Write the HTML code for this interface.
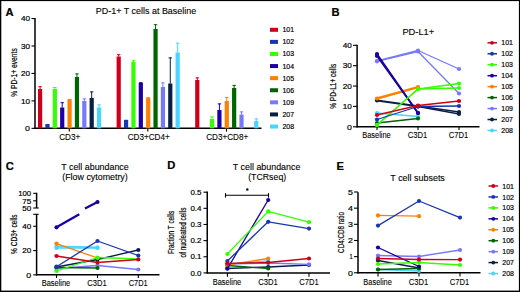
<!DOCTYPE html>
<html><head><meta charset="utf-8"><style>
html,body{margin:0;padding:0;background:#fff;width:520px;height:292px;overflow:hidden}
svg{display:block}
text{font-family:"Liberation Sans",sans-serif;fill:#000}
</style></head><body>
<div id="w"><svg width="520" height="292" viewBox="0 0 520 292">
<rect width="520" height="292" fill="#fff"/>
<text x="5.6" y="15.6" font-size="11.2" text-anchor="start" font-weight="bold" stroke="#000" stroke-width="0.2">A</text>
<text x="146" y="13.8" font-size="9.4" text-anchor="middle" font-weight="normal" textLength="100.5" lengthAdjust="spacingAndGlyphs" stroke="#000" stroke-width="0.12">PD-1+ T cells at Baseline</text>
<line x1="35" y1="17.9" x2="35" y2="128.95" stroke="#000" stroke-width="1.5"/>
<line x1="31.5" y1="128.35" x2="35" y2="128.35" stroke="#000" stroke-width="1.1"/>
<text x="30" y="131.07" font-size="7.6" text-anchor="end" font-weight="normal" textLength="4.9" lengthAdjust="spacingAndGlyphs" stroke="#000" stroke-width="0.2">0</text>
<line x1="31.5" y1="100.9" x2="35" y2="100.9" stroke="#000" stroke-width="1.1"/>
<text x="30" y="103.62" font-size="7.6" text-anchor="end" font-weight="normal" textLength="9.1" lengthAdjust="spacingAndGlyphs" stroke="#000" stroke-width="0.2">10</text>
<line x1="31.5" y1="73.45" x2="35" y2="73.45" stroke="#000" stroke-width="1.1"/>
<text x="30" y="76.17" font-size="7.6" text-anchor="end" font-weight="normal" textLength="9.1" lengthAdjust="spacingAndGlyphs" stroke="#000" stroke-width="0.2">20</text>
<line x1="31.5" y1="46" x2="35" y2="46" stroke="#000" stroke-width="1.1"/>
<text x="30" y="48.72" font-size="7.6" text-anchor="end" font-weight="normal" textLength="9.1" lengthAdjust="spacingAndGlyphs" stroke="#000" stroke-width="0.2">30</text>
<line x1="31.5" y1="18.55" x2="35" y2="18.55" stroke="#000" stroke-width="1.1"/>
<text x="30" y="21.27" font-size="7.6" text-anchor="end" font-weight="normal" textLength="9.1" lengthAdjust="spacingAndGlyphs" stroke="#000" stroke-width="0.2">40</text>
<line x1="34.4" y1="128.35" x2="261.5" y2="128.35" stroke="#000" stroke-width="1.5"/>
<line x1="69.3" y1="128.35" x2="69.3" y2="131.6" stroke="#000" stroke-width="1.1"/>
<line x1="147.8" y1="128.35" x2="147.8" y2="131.6" stroke="#000" stroke-width="1.1"/>
<line x1="226.5" y1="128.35" x2="226.5" y2="131.6" stroke="#000" stroke-width="1.1"/>
<text x="69.7" y="139.7" font-size="8.3" text-anchor="middle" font-weight="normal" textLength="21" lengthAdjust="spacingAndGlyphs" stroke="#000" stroke-width="0.1">CD3+</text>
<text x="148.7" y="139.7" font-size="8.3" text-anchor="middle" font-weight="normal" textLength="42" lengthAdjust="spacingAndGlyphs" stroke="#000" stroke-width="0.1">CD3+CD4+</text>
<text x="227.2" y="139.7" font-size="8.3" text-anchor="middle" font-weight="normal" textLength="42" lengthAdjust="spacingAndGlyphs" stroke="#000" stroke-width="0.1">CD3+CD8+</text>
<text transform="translate(17,72.5) rotate(-90)" x="0" y="0" font-size="8.6" text-anchor="middle" textLength="48.5" lengthAdjust="spacingAndGlyphs" stroke="#000" stroke-width="0.2">% PD-1+ events</text>
<rect x="38" y="89" width="4.2" height="39.35" fill="#cc0018"/>
<line x1="40.1" y1="86.3" x2="40.1" y2="89" stroke="#cc0018" stroke-width="1"/>
<line x1="38.4" y1="86.7" x2="41.8" y2="86.7" stroke="#cc0018" stroke-width="1"/>
<rect x="45.37" y="124" width="4.2" height="4.35" fill="#1637b0"/>
<rect x="52.74" y="88.9" width="4.2" height="39.45" fill="#33ff00"/>
<line x1="54.84" y1="87.1" x2="54.84" y2="88.9" stroke="#33ff00" stroke-width="1"/>
<line x1="53.14" y1="87.5" x2="56.54" y2="87.5" stroke="#33ff00" stroke-width="1"/>
<rect x="60.11" y="107.5" width="4.2" height="20.85" fill="#1c00a4"/>
<line x1="62.21" y1="102.3" x2="62.21" y2="107.5" stroke="#1c00a4" stroke-width="1"/>
<line x1="60.51" y1="102.7" x2="63.91" y2="102.7" stroke="#1c00a4" stroke-width="1"/>
<rect x="67.48" y="99.5" width="4.2" height="28.85" fill="#ff7f00"/>
<line x1="69.58" y1="99" x2="69.58" y2="99.5" stroke="#ff7f00" stroke-width="1"/>
<line x1="67.88" y1="99.4" x2="71.28" y2="99.4" stroke="#ff7f00" stroke-width="1"/>
<rect x="74.85" y="77" width="4.2" height="51.35" fill="#006400"/>
<line x1="76.95" y1="73.5" x2="76.95" y2="77" stroke="#006400" stroke-width="1"/>
<line x1="75.25" y1="73.9" x2="78.65" y2="73.9" stroke="#006400" stroke-width="1"/>
<rect x="82.22" y="101" width="4.2" height="27.35" fill="#7878ff"/>
<line x1="84.32" y1="98.5" x2="84.32" y2="101" stroke="#7878ff" stroke-width="1"/>
<line x1="82.62" y1="98.9" x2="86.02" y2="98.9" stroke="#7878ff" stroke-width="1"/>
<rect x="89.59" y="98" width="4.2" height="30.35" fill="#0a1f45"/>
<line x1="91.69" y1="91.5" x2="91.69" y2="98" stroke="#0a1f45" stroke-width="1"/>
<line x1="89.99" y1="91.9" x2="93.39" y2="91.9" stroke="#0a1f45" stroke-width="1"/>
<rect x="96.96" y="107.5" width="4.2" height="20.85" fill="#4ad4ff"/>
<line x1="99.06" y1="104.5" x2="99.06" y2="107.5" stroke="#4ad4ff" stroke-width="1"/>
<line x1="97.36" y1="104.9" x2="100.76" y2="104.9" stroke="#4ad4ff" stroke-width="1"/>
<rect x="116.6" y="56.5" width="4.2" height="71.85" fill="#cc0018"/>
<line x1="118.7" y1="54.3" x2="118.7" y2="56.5" stroke="#cc0018" stroke-width="1"/>
<line x1="117" y1="54.7" x2="120.4" y2="54.7" stroke="#cc0018" stroke-width="1"/>
<rect x="123.97" y="119.8" width="4.2" height="8.55" fill="#1637b0"/>
<rect x="131.34" y="62" width="4.2" height="66.35" fill="#33ff00"/>
<line x1="133.44" y1="60.3" x2="133.44" y2="62" stroke="#33ff00" stroke-width="1"/>
<line x1="131.74" y1="60.7" x2="135.14" y2="60.7" stroke="#33ff00" stroke-width="1"/>
<rect x="138.71" y="82.8" width="4.2" height="45.55" fill="#1c00a4"/>
<line x1="140.81" y1="82.3" x2="140.81" y2="82.8" stroke="#1c00a4" stroke-width="1"/>
<line x1="139.11" y1="82.7" x2="142.51" y2="82.7" stroke="#1c00a4" stroke-width="1"/>
<rect x="146.08" y="98" width="4.2" height="30.35" fill="#ff7f00"/>
<line x1="148.18" y1="97.3" x2="148.18" y2="98" stroke="#ff7f00" stroke-width="1"/>
<line x1="146.48" y1="97.7" x2="149.88" y2="97.7" stroke="#ff7f00" stroke-width="1"/>
<rect x="153.45" y="29" width="4.2" height="99.35" fill="#006400"/>
<line x1="155.55" y1="24.3" x2="155.55" y2="29" stroke="#006400" stroke-width="1"/>
<line x1="153.85" y1="24.7" x2="157.25" y2="24.7" stroke="#006400" stroke-width="1"/>
<rect x="160.82" y="87" width="4.2" height="41.35" fill="#7878ff"/>
<line x1="162.92" y1="82.5" x2="162.92" y2="87" stroke="#7878ff" stroke-width="1"/>
<line x1="161.22" y1="82.9" x2="164.62" y2="82.9" stroke="#7878ff" stroke-width="1"/>
<rect x="168.19" y="83.5" width="4.2" height="44.85" fill="#0a1f45"/>
<line x1="170.29" y1="57.5" x2="170.29" y2="83.5" stroke="#0a1f45" stroke-width="1"/>
<line x1="168.59" y1="57.9" x2="171.99" y2="57.9" stroke="#0a1f45" stroke-width="1"/>
<rect x="175.56" y="52.5" width="4.2" height="75.85" fill="#4ad4ff"/>
<line x1="177.66" y1="42.8" x2="177.66" y2="52.5" stroke="#4ad4ff" stroke-width="1"/>
<line x1="175.96" y1="43.2" x2="179.36" y2="43.2" stroke="#4ad4ff" stroke-width="1"/>
<rect x="195.2" y="80" width="4.2" height="48.35" fill="#cc0018"/>
<line x1="197.3" y1="77.5" x2="197.3" y2="80" stroke="#cc0018" stroke-width="1"/>
<line x1="195.6" y1="77.9" x2="199" y2="77.9" stroke="#cc0018" stroke-width="1"/>
<rect x="209.94" y="119" width="4.2" height="9.35" fill="#33ff00"/>
<line x1="212.04" y1="116.5" x2="212.04" y2="119" stroke="#33ff00" stroke-width="1"/>
<line x1="210.34" y1="116.9" x2="213.74" y2="116.9" stroke="#33ff00" stroke-width="1"/>
<rect x="217.31" y="110" width="4.2" height="18.35" fill="#1c00a4"/>
<line x1="219.41" y1="103.5" x2="219.41" y2="110" stroke="#1c00a4" stroke-width="1"/>
<line x1="217.71" y1="103.9" x2="221.11" y2="103.9" stroke="#1c00a4" stroke-width="1"/>
<rect x="224.68" y="101" width="4.2" height="27.35" fill="#ff7f00"/>
<line x1="226.78" y1="97" x2="226.78" y2="101" stroke="#ff7f00" stroke-width="1"/>
<line x1="225.08" y1="97.4" x2="228.48" y2="97.4" stroke="#ff7f00" stroke-width="1"/>
<rect x="232.05" y="88" width="4.2" height="40.35" fill="#006400"/>
<line x1="234.15" y1="85" x2="234.15" y2="88" stroke="#006400" stroke-width="1"/>
<line x1="232.45" y1="85.4" x2="235.85" y2="85.4" stroke="#006400" stroke-width="1"/>
<rect x="239.42" y="114.5" width="4.2" height="13.85" fill="#7878ff"/>
<line x1="241.52" y1="111.5" x2="241.52" y2="114.5" stroke="#7878ff" stroke-width="1"/>
<line x1="239.82" y1="111.9" x2="243.22" y2="111.9" stroke="#7878ff" stroke-width="1"/>
<rect x="254.16" y="121" width="4.2" height="7.35" fill="#4ad4ff"/>
<line x1="256.26" y1="118.5" x2="256.26" y2="121" stroke="#4ad4ff" stroke-width="1"/>
<line x1="254.56" y1="118.9" x2="257.96" y2="118.9" stroke="#4ad4ff" stroke-width="1"/>
<rect x="270" y="27.8" width="8" height="4" fill="#cc0018"/>
<text x="282.5" y="32.3" font-size="8.1" text-anchor="start" font-weight="normal" textLength="11.6" lengthAdjust="spacingAndGlyphs" stroke="#000" stroke-width="0.2">101</text>
<rect x="270" y="39.89" width="8" height="4" fill="#1637b0"/>
<text x="282.5" y="44.39" font-size="8.1" text-anchor="start" font-weight="normal" textLength="11.6" lengthAdjust="spacingAndGlyphs" stroke="#000" stroke-width="0.2">102</text>
<rect x="270" y="51.98" width="8" height="4" fill="#33ff00"/>
<text x="282.5" y="56.48" font-size="8.1" text-anchor="start" font-weight="normal" textLength="11.6" lengthAdjust="spacingAndGlyphs" stroke="#000" stroke-width="0.2">103</text>
<rect x="270" y="64.07" width="8" height="4" fill="#1c00a4"/>
<text x="282.5" y="68.57" font-size="8.1" text-anchor="start" font-weight="normal" textLength="11.6" lengthAdjust="spacingAndGlyphs" stroke="#000" stroke-width="0.2">104</text>
<rect x="270" y="76.16" width="8" height="4" fill="#ff7f00"/>
<text x="282.5" y="80.66" font-size="8.1" text-anchor="start" font-weight="normal" textLength="11.6" lengthAdjust="spacingAndGlyphs" stroke="#000" stroke-width="0.2">105</text>
<rect x="270" y="88.25" width="8" height="4" fill="#006400"/>
<text x="282.5" y="92.75" font-size="8.1" text-anchor="start" font-weight="normal" textLength="11.6" lengthAdjust="spacingAndGlyphs" stroke="#000" stroke-width="0.2">106</text>
<rect x="270" y="100.34" width="8" height="4" fill="#7878ff"/>
<text x="282.5" y="104.84" font-size="8.1" text-anchor="start" font-weight="normal" textLength="11.6" lengthAdjust="spacingAndGlyphs" stroke="#000" stroke-width="0.2">109</text>
<rect x="270" y="112.43" width="8" height="4" fill="#0a1f45"/>
<text x="282.5" y="116.93" font-size="8.1" text-anchor="start" font-weight="normal" textLength="11.6" lengthAdjust="spacingAndGlyphs" stroke="#000" stroke-width="0.2">207</text>
<rect x="270" y="124.52" width="8" height="4" fill="#4ad4ff"/>
<text x="282.5" y="129.02" font-size="8.1" text-anchor="start" font-weight="normal" textLength="11.6" lengthAdjust="spacingAndGlyphs" stroke="#000" stroke-width="0.2">208</text>
<text x="331.4" y="15.6" font-size="11.2" text-anchor="start" font-weight="bold" stroke="#000" stroke-width="0.2">B</text>
<text x="418.3" y="34.6" font-size="9.4" text-anchor="middle" font-weight="normal" textLength="31.8" lengthAdjust="spacingAndGlyphs" stroke="#000" stroke-width="0.12">PD-L1+</text>
<line x1="357.1" y1="44.7" x2="357.1" y2="127.4" stroke="#000" stroke-width="1.5"/>
<line x1="353" y1="126.8" x2="357.1" y2="126.8" stroke="#000" stroke-width="1.1"/>
<text x="351.9" y="129.52" font-size="7.6" text-anchor="end" font-weight="normal" textLength="4.9" lengthAdjust="spacingAndGlyphs" stroke="#000" stroke-width="0.2">0</text>
<line x1="353" y1="106.42" x2="357.1" y2="106.42" stroke="#000" stroke-width="1.1"/>
<text x="351.9" y="109.15" font-size="7.6" text-anchor="end" font-weight="normal" textLength="9.1" lengthAdjust="spacingAndGlyphs" stroke="#000" stroke-width="0.2">10</text>
<line x1="353" y1="86.05" x2="357.1" y2="86.05" stroke="#000" stroke-width="1.1"/>
<text x="351.9" y="88.77" font-size="7.6" text-anchor="end" font-weight="normal" textLength="9.1" lengthAdjust="spacingAndGlyphs" stroke="#000" stroke-width="0.2">20</text>
<line x1="353" y1="65.67" x2="357.1" y2="65.67" stroke="#000" stroke-width="1.1"/>
<text x="351.9" y="68.4" font-size="7.6" text-anchor="end" font-weight="normal" textLength="9.1" lengthAdjust="spacingAndGlyphs" stroke="#000" stroke-width="0.2">30</text>
<line x1="353" y1="45.3" x2="357.1" y2="45.3" stroke="#000" stroke-width="1.1"/>
<text x="351.9" y="48.02" font-size="7.6" text-anchor="end" font-weight="normal" textLength="9.1" lengthAdjust="spacingAndGlyphs" stroke="#000" stroke-width="0.2">40</text>
<line x1="356.5" y1="126.8" x2="479.5" y2="126.8" stroke="#000" stroke-width="1.5"/>
<line x1="377" y1="126.8" x2="377" y2="130" stroke="#000" stroke-width="1.1"/>
<line x1="418" y1="126.8" x2="418" y2="130" stroke="#000" stroke-width="1.1"/>
<line x1="459" y1="126.8" x2="459" y2="130" stroke="#000" stroke-width="1.1"/>
<text x="376.5" y="138.2" font-size="8.3" text-anchor="middle" font-weight="normal" textLength="28.5" lengthAdjust="spacingAndGlyphs" stroke="#000" stroke-width="0.1">Baseline</text>
<text x="417.5" y="138.2" font-size="8.3" text-anchor="middle" font-weight="normal" textLength="19.5" lengthAdjust="spacingAndGlyphs" stroke="#000" stroke-width="0.1">C3D1</text>
<text x="458.5" y="138.2" font-size="8.3" text-anchor="middle" font-weight="normal" textLength="19.5" lengthAdjust="spacingAndGlyphs" stroke="#000" stroke-width="0.1">C7D1</text>
<text transform="translate(335.8,86.3) rotate(-90)" x="0" y="0" font-size="8.6" text-anchor="middle" textLength="45" lengthAdjust="spacingAndGlyphs" stroke="#000" stroke-width="0.2">% PD-L1+ cells</text>
<polyline points="377,113 418,116.5" fill="none" stroke="#4ad4ff" stroke-width="1.3" stroke-linejoin="round" stroke-linecap="round"/>
<circle cx="377" cy="113" r="2.1" fill="#4ad4ff"/>
<circle cx="418" cy="116.5" r="2.1" fill="#4ad4ff"/>
<polyline points="377,100.5 418,106.2" fill="none" stroke="#0a1f45" stroke-width="2" stroke-linejoin="round" stroke-linecap="round"/>
<circle cx="377" cy="100.5" r="2.1" fill="#0a1f45"/>
<circle cx="418" cy="106.2" r="2.1" fill="#0a1f45"/>
<polyline points="418,106 459,112" fill="none" stroke="#0a1f45" stroke-width="1.3" stroke-linejoin="round" stroke-linecap="round"/>
<circle cx="418" cy="106" r="2.1" fill="#0a1f45"/>
<circle cx="459" cy="112" r="2.1" fill="#0a1f45"/>
<polyline points="418,106.5 459,114" fill="none" stroke="#0a1f45" stroke-width="1.3" stroke-linejoin="round" stroke-linecap="round"/>
<circle cx="418" cy="106.5" r="2.1" fill="#0a1f45"/>
<circle cx="459" cy="114" r="2.1" fill="#0a1f45"/>
<polyline points="377,61 418,50.5 459,69" fill="none" stroke="#7878ff" stroke-width="1.3" stroke-linejoin="round" stroke-linecap="round"/>
<circle cx="377" cy="61" r="2.1" fill="#7878ff"/>
<circle cx="418" cy="50.5" r="2.1" fill="#7878ff"/>
<circle cx="459" cy="69" r="2.1" fill="#7878ff"/>
<polyline points="377,61.3 418,51.5 459,93.5" fill="none" stroke="#7878ff" stroke-width="1.3" stroke-linejoin="round" stroke-linecap="round"/>
<circle cx="377" cy="61.3" r="2.1" fill="#7878ff"/>
<circle cx="418" cy="51.5" r="2.1" fill="#7878ff"/>
<circle cx="459" cy="93.5" r="2.1" fill="#7878ff"/>
<polyline points="377,123 418,118.5" fill="none" stroke="#006400" stroke-width="1.7" stroke-linejoin="round" stroke-linecap="round"/>
<circle cx="377" cy="123" r="2.1" fill="#006400"/>
<circle cx="418" cy="118.5" r="2.1" fill="#006400"/>
<polyline points="377,98.5 418,87.2" fill="none" stroke="#ff7f00" stroke-width="2.4" stroke-linejoin="round" stroke-linecap="round"/>
<circle cx="377" cy="98.5" r="2.1" fill="#ff7f00"/>
<circle cx="418" cy="87.2" r="2.1" fill="#ff7f00"/>
<polyline points="377,54 418,113" fill="none" stroke="#1c00a4" stroke-width="1.7" stroke-linejoin="round" stroke-linecap="round"/>
<circle cx="377" cy="54" r="2.1" fill="#1c00a4"/>
<circle cx="418" cy="113" r="2.1" fill="#1c00a4"/>
<polyline points="377,56 418,113" fill="none" stroke="#1c00a4" stroke-width="1.7" stroke-linejoin="round" stroke-linecap="round"/>
<circle cx="377" cy="56" r="2.1" fill="#1c00a4"/>
<circle cx="418" cy="113" r="2.1" fill="#1c00a4"/>
<polyline points="377,125 418,89 459,83.5" fill="none" stroke="#33ff00" stroke-width="1.3" stroke-linejoin="round" stroke-linecap="round"/>
<circle cx="377" cy="125" r="2.1" fill="#33ff00"/>
<circle cx="418" cy="89" r="2.1" fill="#33ff00"/>
<circle cx="459" cy="83.5" r="2.1" fill="#33ff00"/>
<polyline points="377,125 418,89 459,88" fill="none" stroke="#33ff00" stroke-width="1.3" stroke-linejoin="round" stroke-linecap="round"/>
<circle cx="377" cy="125" r="2.1" fill="#33ff00"/>
<circle cx="418" cy="89" r="2.1" fill="#33ff00"/>
<circle cx="459" cy="88" r="2.1" fill="#33ff00"/>
<polyline points="377,119.5 418,106.5 459,106" fill="none" stroke="#1637b0" stroke-width="1.3" stroke-linejoin="round" stroke-linecap="round"/>
<circle cx="377" cy="119.5" r="2.1" fill="#1637b0"/>
<circle cx="418" cy="106.5" r="2.1" fill="#1637b0"/>
<circle cx="459" cy="106" r="2.1" fill="#1637b0"/>
<polyline points="377,115 418,105.5 459,101" fill="none" stroke="#cc0018" stroke-width="1.3" stroke-linejoin="round" stroke-linecap="round"/>
<circle cx="377" cy="115" r="2.1" fill="#cc0018"/>
<circle cx="418" cy="105.5" r="2.1" fill="#cc0018"/>
<circle cx="459" cy="101" r="2.1" fill="#cc0018"/>
<line x1="487.5" y1="42.8" x2="497" y2="42.8" stroke="#cc0018" stroke-width="1.5"/>
<circle cx="492" cy="42.8" r="1.9" fill="#cc0018"/>
<text x="501.3" y="45.4" font-size="8.1" text-anchor="start" font-weight="normal" textLength="11.6" lengthAdjust="spacingAndGlyphs" stroke="#000" stroke-width="0.2">101</text>
<line x1="487.5" y1="53.76" x2="497" y2="53.76" stroke="#1637b0" stroke-width="1.5"/>
<circle cx="492" cy="53.76" r="1.9" fill="#1637b0"/>
<text x="501.3" y="56.36" font-size="8.1" text-anchor="start" font-weight="normal" textLength="11.6" lengthAdjust="spacingAndGlyphs" stroke="#000" stroke-width="0.2">102</text>
<line x1="487.5" y1="64.72" x2="497" y2="64.72" stroke="#33ff00" stroke-width="1.5"/>
<circle cx="492" cy="64.72" r="1.9" fill="#33ff00"/>
<text x="501.3" y="67.32" font-size="8.1" text-anchor="start" font-weight="normal" textLength="11.6" lengthAdjust="spacingAndGlyphs" stroke="#000" stroke-width="0.2">103</text>
<line x1="487.5" y1="75.68" x2="497" y2="75.68" stroke="#1c00a4" stroke-width="1.5"/>
<circle cx="492" cy="75.68" r="1.9" fill="#1c00a4"/>
<text x="501.3" y="78.28" font-size="8.1" text-anchor="start" font-weight="normal" textLength="11.6" lengthAdjust="spacingAndGlyphs" stroke="#000" stroke-width="0.2">104</text>
<line x1="487.5" y1="86.64" x2="497" y2="86.64" stroke="#ff7f00" stroke-width="1.5"/>
<circle cx="492" cy="86.64" r="1.9" fill="#ff7f00"/>
<text x="501.3" y="89.24" font-size="8.1" text-anchor="start" font-weight="normal" textLength="11.6" lengthAdjust="spacingAndGlyphs" stroke="#000" stroke-width="0.2">105</text>
<line x1="487.5" y1="97.6" x2="497" y2="97.6" stroke="#006400" stroke-width="1.5"/>
<circle cx="492" cy="97.6" r="1.9" fill="#006400"/>
<text x="501.3" y="100.2" font-size="8.1" text-anchor="start" font-weight="normal" textLength="11.6" lengthAdjust="spacingAndGlyphs" stroke="#000" stroke-width="0.2">106</text>
<line x1="487.5" y1="108.56" x2="497" y2="108.56" stroke="#7878ff" stroke-width="1.5"/>
<circle cx="492" cy="108.56" r="1.9" fill="#7878ff"/>
<text x="501.3" y="111.16" font-size="8.1" text-anchor="start" font-weight="normal" textLength="11.6" lengthAdjust="spacingAndGlyphs" stroke="#000" stroke-width="0.2">109</text>
<line x1="487.5" y1="119.52" x2="497" y2="119.52" stroke="#0a1f45" stroke-width="1.5"/>
<circle cx="492" cy="119.52" r="1.9" fill="#0a1f45"/>
<text x="501.3" y="122.12" font-size="8.1" text-anchor="start" font-weight="normal" textLength="11.6" lengthAdjust="spacingAndGlyphs" stroke="#000" stroke-width="0.2">207</text>
<line x1="487.5" y1="130.48" x2="497" y2="130.48" stroke="#4ad4ff" stroke-width="1.5"/>
<circle cx="492" cy="130.48" r="1.9" fill="#4ad4ff"/>
<text x="501.3" y="133.08" font-size="8.1" text-anchor="start" font-weight="normal" textLength="11.6" lengthAdjust="spacingAndGlyphs" stroke="#000" stroke-width="0.2">208</text>
<text x="5.8" y="169.6" font-size="11.2" text-anchor="start" font-weight="bold" stroke="#000" stroke-width="0.2">C</text>
<text x="95" y="169.8" font-size="9.4" text-anchor="middle" font-weight="normal" textLength="67.5" lengthAdjust="spacingAndGlyphs" stroke="#000" stroke-width="0.12">T cell abundance</text>
<text x="95" y="179.6" font-size="9.4" text-anchor="middle" font-weight="normal" textLength="65.5" lengthAdjust="spacingAndGlyphs" stroke="#000" stroke-width="0.12">(Flow cytometry)</text>
<line x1="36.6" y1="192.8" x2="36.6" y2="208" stroke="#000" stroke-width="1.5"/>
<line x1="36.6" y1="214.3" x2="36.6" y2="275.45" stroke="#000" stroke-width="1.5"/>
<line x1="33.2" y1="193.3" x2="36.6" y2="193.3" stroke="#000" stroke-width="1.1"/>
<text x="31.2" y="196.02" font-size="7.6" text-anchor="end" font-weight="normal" textLength="13" lengthAdjust="spacingAndGlyphs" stroke="#000" stroke-width="0.2">100</text>
<line x1="33.2" y1="200.8" x2="36.6" y2="200.8" stroke="#000" stroke-width="1.1"/>
<text x="31.2" y="203.52" font-size="7.6" text-anchor="end" font-weight="normal" textLength="9" lengthAdjust="spacingAndGlyphs" stroke="#000" stroke-width="0.2">75</text>
<line x1="33.2" y1="208" x2="38.7" y2="208" stroke="#000" stroke-width="1.1"/>
<text x="31.2" y="210.72" font-size="7.6" text-anchor="end" font-weight="normal" textLength="9" lengthAdjust="spacingAndGlyphs" stroke="#000" stroke-width="0.2">50</text>
<line x1="33.2" y1="214.3" x2="38.7" y2="214.3" stroke="#000" stroke-width="1.1"/>
<line x1="33.2" y1="274.85" x2="36.6" y2="274.85" stroke="#000" stroke-width="1.1"/>
<text x="31.2" y="277.57" font-size="7.6" text-anchor="end" font-weight="normal" textLength="4.9" lengthAdjust="spacingAndGlyphs" stroke="#000" stroke-width="0.2">0</text>
<line x1="33.2" y1="250.57" x2="36.6" y2="250.57" stroke="#000" stroke-width="1.1"/>
<text x="31.2" y="253.29" font-size="7.6" text-anchor="end" font-weight="normal" textLength="9" lengthAdjust="spacingAndGlyphs" stroke="#000" stroke-width="0.2">20</text>
<line x1="33.2" y1="226.29" x2="36.6" y2="226.29" stroke="#000" stroke-width="1.1"/>
<text x="31.2" y="229.01" font-size="7.6" text-anchor="end" font-weight="normal" textLength="9" lengthAdjust="spacingAndGlyphs" stroke="#000" stroke-width="0.2">40</text>
<line x1="36" y1="274.85" x2="159.5" y2="274.85" stroke="#000" stroke-width="1.5"/>
<line x1="56.5" y1="274.85" x2="56.5" y2="278" stroke="#000" stroke-width="1.1"/>
<line x1="97.5" y1="274.85" x2="97.5" y2="278" stroke="#000" stroke-width="1.1"/>
<line x1="138.3" y1="274.85" x2="138.3" y2="278" stroke="#000" stroke-width="1.1"/>
<text x="56" y="286.2" font-size="8.3" text-anchor="middle" font-weight="normal" textLength="28.5" lengthAdjust="spacingAndGlyphs" stroke="#000" stroke-width="0.1">Baseline</text>
<text x="97" y="286.2" font-size="8.3" text-anchor="middle" font-weight="normal" textLength="19.5" lengthAdjust="spacingAndGlyphs" stroke="#000" stroke-width="0.1">C3D1</text>
<text x="138.2" y="286.2" font-size="8.3" text-anchor="middle" font-weight="normal" textLength="19" lengthAdjust="spacingAndGlyphs" stroke="#000" stroke-width="0.1">C7D1</text>
<text transform="translate(16.7,234.2) rotate(-90)" x="0" y="0" font-size="8.6" text-anchor="middle" textLength="39.6" lengthAdjust="spacingAndGlyphs" stroke="#000" stroke-width="0.2">% CD3+ cells</text>
<polyline points="56.5,246.4 97.5,247.4" fill="none" stroke="#4ad4ff" stroke-width="1.6" stroke-linejoin="round" stroke-linecap="round"/>
<circle cx="56.5" cy="246.4" r="2.1" fill="#4ad4ff"/>
<circle cx="97.5" cy="247.4" r="2.1" fill="#4ad4ff"/>
<polyline points="56.5,248 97.5,248" fill="none" stroke="#4ad4ff" stroke-width="1.6" stroke-linejoin="round" stroke-linecap="round"/>
<circle cx="56.5" cy="248" r="2.1" fill="#4ad4ff"/>
<circle cx="97.5" cy="248" r="2.1" fill="#4ad4ff"/>
<polyline points="56.5,267 97.5,259.5 138.3,250" fill="none" stroke="#0a1f45" stroke-width="1.3" stroke-linejoin="round" stroke-linecap="round"/>
<circle cx="56.5" cy="267" r="2.1" fill="#0a1f45"/>
<circle cx="97.5" cy="259.5" r="2.1" fill="#0a1f45"/>
<circle cx="138.3" cy="250" r="2.1" fill="#0a1f45"/>
<polyline points="56.5,268.5 97.5,265.5 138.3,269.5" fill="none" stroke="#7878ff" stroke-width="1.3" stroke-linejoin="round" stroke-linecap="round"/>
<circle cx="56.5" cy="268.5" r="2.1" fill="#7878ff"/>
<circle cx="97.5" cy="265.5" r="2.1" fill="#7878ff"/>
<circle cx="138.3" cy="269.5" r="2.1" fill="#7878ff"/>
<polyline points="56.5,267.5 97.5,268" fill="none" stroke="#006400" stroke-width="1.3" stroke-linejoin="round" stroke-linecap="round"/>
<circle cx="56.5" cy="267.5" r="2.1" fill="#006400"/>
<circle cx="97.5" cy="268" r="2.1" fill="#006400"/>
<polyline points="56.5,243.6 97.5,258" fill="none" stroke="#ff7f00" stroke-width="1.3" stroke-linejoin="round" stroke-linecap="round"/>
<circle cx="56.5" cy="243.6" r="2.1" fill="#ff7f00"/>
<circle cx="97.5" cy="258" r="2.1" fill="#ff7f00"/>
<polyline points="56.5,271 97.5,257.5 138.3,259" fill="none" stroke="#33ff00" stroke-width="1.3" stroke-linejoin="round" stroke-linecap="round"/>
<circle cx="56.5" cy="271" r="2.1" fill="#33ff00"/>
<circle cx="97.5" cy="257.5" r="2.1" fill="#33ff00"/>
<circle cx="138.3" cy="259" r="2.1" fill="#33ff00"/>
<polyline points="56.5,266.7 97.5,241 138.3,255.5" fill="none" stroke="#1637b0" stroke-width="1.3" stroke-linejoin="round" stroke-linecap="round"/>
<circle cx="56.5" cy="266.7" r="2.1" fill="#1637b0"/>
<circle cx="97.5" cy="241" r="2.1" fill="#1637b0"/>
<circle cx="138.3" cy="255.5" r="2.1" fill="#1637b0"/>
<polyline points="56.5,256 97.5,262.5 138.3,259.5" fill="none" stroke="#cc0018" stroke-width="1.3" stroke-linejoin="round" stroke-linecap="round"/>
<circle cx="56.5" cy="256" r="2.1" fill="#cc0018"/>
<circle cx="97.5" cy="262.5" r="2.1" fill="#cc0018"/>
<circle cx="138.3" cy="259.5" r="2.1" fill="#cc0018"/>
<line x1="56.5" y1="227.2" x2="79.3" y2="214.3" stroke="#1c00a4" stroke-width="2.3"/>
<line x1="85" y1="208.5" x2="97.5" y2="202" stroke="#1c00a4" stroke-width="2.3"/>
<circle cx="56.5" cy="227.3" r="2.1" fill="#1c00a4"/>
<circle cx="97.5" cy="202" r="2.1" fill="#1c00a4"/>
<text x="167.2" y="169.2" font-size="11.2" text-anchor="start" font-weight="bold" stroke="#000" stroke-width="0.2">D</text>
<text x="266.6" y="169.8" font-size="9.4" text-anchor="middle" font-weight="normal" textLength="67.5" lengthAdjust="spacingAndGlyphs" stroke="#000" stroke-width="0.12">T cell abundance</text>
<text x="267.2" y="179.7" font-size="9.4" text-anchor="middle" font-weight="normal" textLength="38" lengthAdjust="spacingAndGlyphs" stroke="#000" stroke-width="0.12">(TCRseq)</text>
<line x1="207.25" y1="191.6" x2="207.25" y2="273.5" stroke="#000" stroke-width="1.5"/>
<line x1="203.5" y1="272.9" x2="207.25" y2="272.9" stroke="#000" stroke-width="1.1"/>
<text x="201.4" y="275.62" font-size="7.6" text-anchor="end" font-weight="normal" textLength="11" lengthAdjust="spacingAndGlyphs" stroke="#000" stroke-width="0.2">0.0</text>
<line x1="203.5" y1="256.76" x2="207.25" y2="256.76" stroke="#000" stroke-width="1.1"/>
<text x="201.4" y="259.48" font-size="7.6" text-anchor="end" font-weight="normal" textLength="11" lengthAdjust="spacingAndGlyphs" stroke="#000" stroke-width="0.2">0.1</text>
<line x1="203.5" y1="240.62" x2="207.25" y2="240.62" stroke="#000" stroke-width="1.1"/>
<text x="201.4" y="243.34" font-size="7.6" text-anchor="end" font-weight="normal" textLength="11" lengthAdjust="spacingAndGlyphs" stroke="#000" stroke-width="0.2">0.2</text>
<line x1="203.5" y1="224.48" x2="207.25" y2="224.48" stroke="#000" stroke-width="1.1"/>
<text x="201.4" y="227.2" font-size="7.6" text-anchor="end" font-weight="normal" textLength="11" lengthAdjust="spacingAndGlyphs" stroke="#000" stroke-width="0.2">0.3</text>
<line x1="203.5" y1="208.34" x2="207.25" y2="208.34" stroke="#000" stroke-width="1.1"/>
<text x="201.4" y="211.06" font-size="7.6" text-anchor="end" font-weight="normal" textLength="11" lengthAdjust="spacingAndGlyphs" stroke="#000" stroke-width="0.2">0.4</text>
<line x1="203.5" y1="192.2" x2="207.25" y2="192.2" stroke="#000" stroke-width="1.1"/>
<text x="201.4" y="194.92" font-size="7.6" text-anchor="end" font-weight="normal" textLength="11" lengthAdjust="spacingAndGlyphs" stroke="#000" stroke-width="0.2">0.5</text>
<line x1="206.65" y1="272.9" x2="330" y2="272.9" stroke="#000" stroke-width="1.5"/>
<line x1="227.4" y1="272.9" x2="227.4" y2="276.8" stroke="#000" stroke-width="1.1"/>
<line x1="268.2" y1="272.9" x2="268.2" y2="276.8" stroke="#000" stroke-width="1.1"/>
<line x1="309" y1="272.9" x2="309" y2="276.8" stroke="#000" stroke-width="1.1"/>
<text x="227" y="284.8" font-size="8.3" text-anchor="middle" font-weight="normal" textLength="28.5" lengthAdjust="spacingAndGlyphs" stroke="#000" stroke-width="0.1">Baseline</text>
<text x="268" y="284.8" font-size="8.3" text-anchor="middle" font-weight="normal" textLength="19.5" lengthAdjust="spacingAndGlyphs" stroke="#000" stroke-width="0.1">C3D1</text>
<text x="309" y="284.8" font-size="8.3" text-anchor="middle" font-weight="normal" textLength="19.5" lengthAdjust="spacingAndGlyphs" stroke="#000" stroke-width="0.1">C7D1</text>
<text transform="translate(174.4,232.4) rotate(-90)" x="0" y="0" font-size="8.2" text-anchor="middle" textLength="43.2" lengthAdjust="spacingAndGlyphs" stroke="#000" stroke-width="0.2">Fraction T cells</text>
<text transform="translate(185.7,232.5) rotate(-90)" x="0" y="0" font-size="8.2" text-anchor="middle" textLength="49.8" lengthAdjust="spacingAndGlyphs" stroke="#000" stroke-width="0.2">of nucleated cells</text>
<line x1="225.5" y1="195.3" x2="268.5" y2="195.3" stroke="#000" stroke-width="1.1"/>
<line x1="225.5" y1="193.1" x2="225.5" y2="197.6" stroke="#000" stroke-width="1.1"/>
<line x1="268.5" y1="193.1" x2="268.5" y2="197.6" stroke="#000" stroke-width="1.1"/>
<circle cx="247.3" cy="189.4" r="1.25" fill="#111"/>
<polyline points="227.4,264 268.2,261" fill="none" stroke="#4ad4ff" stroke-width="1.3" stroke-linejoin="round" stroke-linecap="round"/>
<circle cx="227.4" cy="264" r="2.1" fill="#4ad4ff"/>
<circle cx="268.2" cy="261" r="2.1" fill="#4ad4ff"/>
<polyline points="227.4,268.5 268.2,267 309,265" fill="none" stroke="#0a1f45" stroke-width="1.3" stroke-linejoin="round" stroke-linecap="round"/>
<circle cx="227.4" cy="268.5" r="2.1" fill="#0a1f45"/>
<circle cx="268.2" cy="267" r="2.1" fill="#0a1f45"/>
<circle cx="309" cy="265" r="2.1" fill="#0a1f45"/>
<polyline points="227.4,264 268.2,263 309,264.3" fill="none" stroke="#7878ff" stroke-width="1.3" stroke-linejoin="round" stroke-linecap="round"/>
<circle cx="227.4" cy="264" r="2.1" fill="#7878ff"/>
<circle cx="268.2" cy="263" r="2.1" fill="#7878ff"/>
<circle cx="309" cy="264.3" r="2.1" fill="#7878ff"/>
<polyline points="227.4,265.5 268.2,268.5" fill="none" stroke="#006400" stroke-width="1.3" stroke-linejoin="round" stroke-linecap="round"/>
<circle cx="227.4" cy="265.5" r="2.1" fill="#006400"/>
<circle cx="268.2" cy="268.5" r="2.1" fill="#006400"/>
<polyline points="227.4,265 268.2,258.5" fill="none" stroke="#ff7f00" stroke-width="1.3" stroke-linejoin="round" stroke-linecap="round"/>
<circle cx="227.4" cy="265" r="2.1" fill="#ff7f00"/>
<circle cx="268.2" cy="258.5" r="2.1" fill="#ff7f00"/>
<polyline points="227.4,268.6 268.2,200" fill="none" stroke="#1c00a4" stroke-width="1.3" stroke-linejoin="round" stroke-linecap="round"/>
<circle cx="227.4" cy="268.6" r="2.1" fill="#1c00a4"/>
<circle cx="268.2" cy="200" r="2.1" fill="#1c00a4"/>
<polyline points="227.4,254 268.2,211.4 309,222.2" fill="none" stroke="#33ff00" stroke-width="1.3" stroke-linejoin="round" stroke-linecap="round"/>
<circle cx="227.4" cy="254" r="2.1" fill="#33ff00"/>
<circle cx="268.2" cy="211.4" r="2.1" fill="#33ff00"/>
<circle cx="309" cy="222.2" r="2.1" fill="#33ff00"/>
<polyline points="227.4,261 268.2,221.8 309,228.6" fill="none" stroke="#1637b0" stroke-width="1.3" stroke-linejoin="round" stroke-linecap="round"/>
<circle cx="227.4" cy="261" r="2.1" fill="#1637b0"/>
<circle cx="268.2" cy="221.8" r="2.1" fill="#1637b0"/>
<circle cx="309" cy="228.6" r="2.1" fill="#1637b0"/>
<polyline points="227.4,263.3 268.2,262.5 309,258.5" fill="none" stroke="#cc0018" stroke-width="1.3" stroke-linejoin="round" stroke-linecap="round"/>
<circle cx="227.4" cy="263.3" r="2.1" fill="#cc0018"/>
<circle cx="268.2" cy="262.5" r="2.1" fill="#cc0018"/>
<circle cx="309" cy="258.5" r="2.1" fill="#cc0018"/>
<text x="336.6" y="169.6" font-size="11.2" text-anchor="start" font-weight="bold" stroke="#000" stroke-width="0.2">E</text>
<text x="417.6" y="180.9" font-size="9.4" text-anchor="middle" font-weight="normal" textLength="54.5" lengthAdjust="spacingAndGlyphs" stroke="#000" stroke-width="0.12">T cell subsets</text>
<line x1="358" y1="192.2" x2="358" y2="273.4" stroke="#000" stroke-width="1.5"/>
<line x1="354" y1="272.8" x2="358" y2="272.8" stroke="#000" stroke-width="1.1"/>
<text x="352.8" y="275.52" font-size="7.6" text-anchor="end" font-weight="normal" textLength="4.9" lengthAdjust="spacingAndGlyphs" stroke="#000" stroke-width="0.2">0</text>
<line x1="354" y1="256.64" x2="358" y2="256.64" stroke="#000" stroke-width="1.1"/>
<text x="352.8" y="259.36" font-size="7.6" text-anchor="end" font-weight="normal" textLength="3.2" lengthAdjust="spacingAndGlyphs" stroke="#000" stroke-width="0.2">1</text>
<line x1="354" y1="240.48" x2="358" y2="240.48" stroke="#000" stroke-width="1.1"/>
<text x="352.8" y="243.2" font-size="7.6" text-anchor="end" font-weight="normal" textLength="4.9" lengthAdjust="spacingAndGlyphs" stroke="#000" stroke-width="0.2">2</text>
<line x1="354" y1="224.32" x2="358" y2="224.32" stroke="#000" stroke-width="1.1"/>
<text x="352.8" y="227.04" font-size="7.6" text-anchor="end" font-weight="normal" textLength="4.9" lengthAdjust="spacingAndGlyphs" stroke="#000" stroke-width="0.2">3</text>
<line x1="354" y1="208.16" x2="358" y2="208.16" stroke="#000" stroke-width="1.1"/>
<text x="352.8" y="210.88" font-size="7.6" text-anchor="end" font-weight="normal" textLength="4.9" lengthAdjust="spacingAndGlyphs" stroke="#000" stroke-width="0.2">4</text>
<line x1="354" y1="192" x2="358" y2="192" stroke="#000" stroke-width="1.1"/>
<text x="352.8" y="194.72" font-size="7.6" text-anchor="end" font-weight="normal" textLength="4.9" lengthAdjust="spacingAndGlyphs" stroke="#000" stroke-width="0.2">5</text>
<line x1="357.4" y1="272.8" x2="480.5" y2="272.8" stroke="#000" stroke-width="1.5"/>
<line x1="378" y1="272.8" x2="378" y2="276.5" stroke="#000" stroke-width="1.1"/>
<line x1="419" y1="272.8" x2="419" y2="276.5" stroke="#000" stroke-width="1.1"/>
<line x1="460" y1="272.8" x2="460" y2="276.5" stroke="#000" stroke-width="1.1"/>
<text x="377.6" y="284.8" font-size="8.3" text-anchor="middle" font-weight="normal" textLength="28.5" lengthAdjust="spacingAndGlyphs" stroke="#000" stroke-width="0.1">Baseline</text>
<text x="418.6" y="284.8" font-size="8.3" text-anchor="middle" font-weight="normal" textLength="19.5" lengthAdjust="spacingAndGlyphs" stroke="#000" stroke-width="0.1">C3D1</text>
<text x="459.6" y="284.8" font-size="8.3" text-anchor="middle" font-weight="normal" textLength="19.5" lengthAdjust="spacingAndGlyphs" stroke="#000" stroke-width="0.1">C7D1</text>
<text transform="translate(343.7,232.5) rotate(-90)" x="0" y="0" font-size="8.6" text-anchor="middle" textLength="40.8" lengthAdjust="spacingAndGlyphs" stroke="#000" stroke-width="0.2">CD4:CD8 ratio</text>
<polyline points="378,269.5 419,271" fill="none" stroke="#4ad4ff" stroke-width="1.3" stroke-linejoin="round" stroke-linecap="round"/>
<circle cx="378" cy="269.5" r="2.1" fill="#4ad4ff"/>
<circle cx="419" cy="271" r="2.1" fill="#4ad4ff"/>
<polyline points="378,260.5 419,268" fill="none" stroke="#0a1f45" stroke-width="1.3" stroke-linejoin="round" stroke-linecap="round"/>
<circle cx="378" cy="260.5" r="2.1" fill="#0a1f45"/>
<circle cx="419" cy="268" r="2.1" fill="#0a1f45"/>
<polyline points="378,255.5 419,256.5 460,250" fill="none" stroke="#7878ff" stroke-width="1.3" stroke-linejoin="round" stroke-linecap="round"/>
<circle cx="378" cy="255.5" r="2.1" fill="#7878ff"/>
<circle cx="419" cy="256.5" r="2.1" fill="#7878ff"/>
<circle cx="460" cy="250" r="2.1" fill="#7878ff"/>
<polyline points="378,269.5 419,268.5" fill="none" stroke="#006400" stroke-width="1.3" stroke-linejoin="round" stroke-linecap="round"/>
<circle cx="378" cy="269.5" r="2.1" fill="#006400"/>
<circle cx="419" cy="268.5" r="2.1" fill="#006400"/>
<polyline points="378,215.4 419,216.2" fill="none" stroke="#ff7f00" stroke-width="1.3" stroke-linejoin="round" stroke-linecap="round"/>
<circle cx="378" cy="215.4" r="2.1" fill="#ff7f00"/>
<circle cx="419" cy="216.2" r="2.1" fill="#ff7f00"/>
<polyline points="378,247.5 419,266.5" fill="none" stroke="#1c00a4" stroke-width="1.3" stroke-linejoin="round" stroke-linecap="round"/>
<circle cx="378" cy="247.5" r="2.1" fill="#1c00a4"/>
<circle cx="419" cy="266.5" r="2.1" fill="#1c00a4"/>
<polyline points="378,264 419,262.5 460,265" fill="none" stroke="#33ff00" stroke-width="1.3" stroke-linejoin="round" stroke-linecap="round"/>
<circle cx="378" cy="264" r="2.1" fill="#33ff00"/>
<circle cx="419" cy="262.5" r="2.1" fill="#33ff00"/>
<circle cx="460" cy="265" r="2.1" fill="#33ff00"/>
<polyline points="378,225.6 419,201 460,217.6" fill="none" stroke="#1637b0" stroke-width="1.3" stroke-linejoin="round" stroke-linecap="round"/>
<circle cx="378" cy="225.6" r="2.1" fill="#1637b0"/>
<circle cx="419" cy="201" r="2.1" fill="#1637b0"/>
<circle cx="460" cy="217.6" r="2.1" fill="#1637b0"/>
<polyline points="378,258.5 419,259.5 460,259.6" fill="none" stroke="#cc0018" stroke-width="1.3" stroke-linejoin="round" stroke-linecap="round"/>
<circle cx="378" cy="258.5" r="2.1" fill="#cc0018"/>
<circle cx="419" cy="259.5" r="2.1" fill="#cc0018"/>
<circle cx="460" cy="259.6" r="2.1" fill="#cc0018"/>
<line x1="488.5" y1="186" x2="498" y2="186" stroke="#cc0018" stroke-width="1.5"/>
<circle cx="493.3" cy="186" r="1.9" fill="#cc0018"/>
<text x="502.3" y="188.6" font-size="8.1" text-anchor="start" font-weight="normal" textLength="11.6" lengthAdjust="spacingAndGlyphs" stroke="#000" stroke-width="0.2">101</text>
<line x1="488.5" y1="196.94" x2="498" y2="196.94" stroke="#1637b0" stroke-width="1.5"/>
<circle cx="493.3" cy="196.94" r="1.9" fill="#1637b0"/>
<text x="502.3" y="199.54" font-size="8.1" text-anchor="start" font-weight="normal" textLength="11.6" lengthAdjust="spacingAndGlyphs" stroke="#000" stroke-width="0.2">102</text>
<line x1="488.5" y1="207.88" x2="498" y2="207.88" stroke="#33ff00" stroke-width="1.5"/>
<circle cx="493.3" cy="207.88" r="1.9" fill="#33ff00"/>
<text x="502.3" y="210.48" font-size="8.1" text-anchor="start" font-weight="normal" textLength="11.6" lengthAdjust="spacingAndGlyphs" stroke="#000" stroke-width="0.2">103</text>
<line x1="488.5" y1="218.82" x2="498" y2="218.82" stroke="#1c00a4" stroke-width="1.5"/>
<circle cx="493.3" cy="218.82" r="1.9" fill="#1c00a4"/>
<text x="502.3" y="221.42" font-size="8.1" text-anchor="start" font-weight="normal" textLength="11.6" lengthAdjust="spacingAndGlyphs" stroke="#000" stroke-width="0.2">104</text>
<line x1="488.5" y1="229.76" x2="498" y2="229.76" stroke="#ff7f00" stroke-width="1.5"/>
<circle cx="493.3" cy="229.76" r="1.9" fill="#ff7f00"/>
<text x="502.3" y="232.36" font-size="8.1" text-anchor="start" font-weight="normal" textLength="11.6" lengthAdjust="spacingAndGlyphs" stroke="#000" stroke-width="0.2">105</text>
<line x1="488.5" y1="240.7" x2="498" y2="240.7" stroke="#006400" stroke-width="1.5"/>
<circle cx="493.3" cy="240.7" r="1.9" fill="#006400"/>
<text x="502.3" y="243.3" font-size="8.1" text-anchor="start" font-weight="normal" textLength="11.6" lengthAdjust="spacingAndGlyphs" stroke="#000" stroke-width="0.2">106</text>
<line x1="488.5" y1="251.64" x2="498" y2="251.64" stroke="#7878ff" stroke-width="1.5"/>
<circle cx="493.3" cy="251.64" r="1.9" fill="#7878ff"/>
<text x="502.3" y="254.24" font-size="8.1" text-anchor="start" font-weight="normal" textLength="11.6" lengthAdjust="spacingAndGlyphs" stroke="#000" stroke-width="0.2">109</text>
<line x1="488.5" y1="262.58" x2="498" y2="262.58" stroke="#0a1f45" stroke-width="1.5"/>
<circle cx="493.3" cy="262.58" r="1.9" fill="#0a1f45"/>
<text x="502.3" y="265.18" font-size="8.1" text-anchor="start" font-weight="normal" textLength="11.6" lengthAdjust="spacingAndGlyphs" stroke="#000" stroke-width="0.2">207</text>
<line x1="488.5" y1="273.52" x2="498" y2="273.52" stroke="#4ad4ff" stroke-width="1.5"/>
<circle cx="493.3" cy="273.52" r="1.9" fill="#4ad4ff"/>
<text x="502.3" y="276.12" font-size="8.1" text-anchor="start" font-weight="normal" textLength="11.6" lengthAdjust="spacingAndGlyphs" stroke="#000" stroke-width="0.2">208</text>
<rect x="0" y="0" width="520" height="1.1" fill="#000"/>
<rect x="0" y="0" width="1.3" height="292" fill="#000"/>
<rect x="518.9" y="0" width="1.1" height="292" fill="#000"/>
<rect x="0" y="290.6" width="520" height="1.4" fill="#000"/>
</svg></div>
</body></html>
